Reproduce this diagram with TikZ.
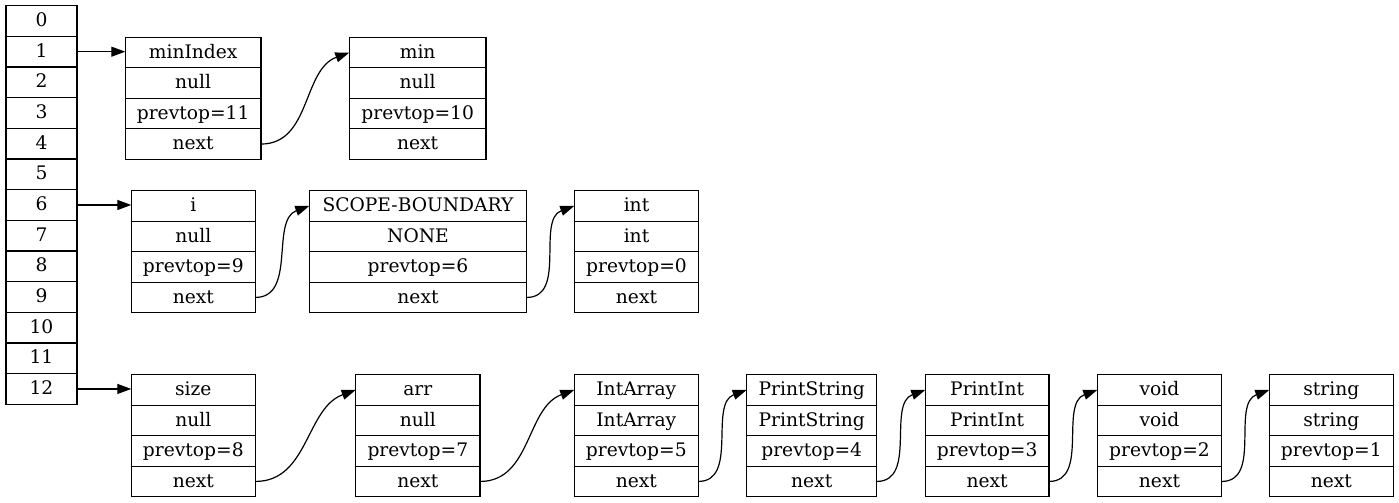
\documentclass[tikz,border=0pt]{standalone}
\usepackage{fontspec}
\setmainfont{DejaVu Serif}
\usetikzlibrary{arrows.meta}

% A record of four stacked cells: name, left x, right x, top y, four labels
\newcommand\recbox[8]{%
  \pgfmathsetmacro\rbw{(#3-#2)*0.75}%
  \pgfmathsetmacro\rbx{(#2+#3)/2}%
  \node[cell, minimum width=\rbw pt] (#11) at (\rbx, {-(#4+15.25)}) {#5};
  \node[cell, minimum width=\rbw pt] (#12) at (\rbx, {-(#4+45.75)}) {#6};
  \node[cell, minimum width=\rbw pt] (#13) at (\rbx, {-(#4+76.25)}) {#7};
  \node[cell, minimum width=\rbw pt] (#14) at (\rbx, {-(#4+106.75)}) {#8};
}

\begin{document}
\begin{tikzpicture}[x=0.75pt,y=0.75pt,
  cell/.style={draw=black, line width=0.9pt, inner sep=0pt, outer sep=0pt,
    minimum height=22.875pt, text height=11.4pt, text depth=3pt,
    font=\fontsize{14}{16}\selectfont},
  link/.style={line width=0.9pt, -{Triangle[length=10.5pt,width=7.5pt]}}]
\useasboundingbox (0,0) rectangle (1399,-503);

% symbol table slots
\foreach \k in {0,...,12}
  \node[cell, minimum width=53.25pt, minimum height=23pt]
    (a\k) at (41.5, {-(5.7+(\k+0.5)*30.66)}) {\k};

% chain from slot 1
\recbox{minIndex}{125.3}{261}{37.3}{minIndex}{null}{prevtop=11}{next}
\recbox{min}{349.3}{486}{37.3}{min}{null}{prevtop=10}{next}

% chain from slot 6
\recbox{i}{131.3}{255.3}{190.7}{i}{null}{prevtop=9}{next}
\recbox{scope}{309.3}{526.7}{190.7}{SCOPE-BOUNDARY}{NONE}{prevtop=6}{next}
\recbox{int}{574.3}{698.7}{190.7}{int}{int}{prevtop=0}{next}

% chain from slot 12
\recbox{size}{131.3}{255.3}{374.7}{size}{null}{prevtop=8}{next}
\recbox{arr}{355.7}{480}{374.7}{arr}{null}{prevtop=7}{next}
\recbox{intarray}{574.3}{698.3}{374.7}{IntArray}{IntArray}{prevtop=5}{next}
\recbox{printstring}{746.7}{876.7}{374.7}{PrintString}{PrintString}{prevtop=4}{next}
\recbox{printint}{925.3}{1049}{374.7}{PrintInt}{PrintInt}{prevtop=3}{next}
\recbox{void}{1097.3}{1221.7}{374.7}{void}{void}{prevtop=2}{next}
\recbox{string}{1269.3}{1393.3}{374.7}{string}{string}{prevtop=1}{next}

% slot pointers
\draw[link] (a1.east) -- (a1.east -| minIndex1.west);
\draw[link] (a6.east) -- (a6.east -| i1.west);
\draw[link] (a12.east) -- (a12.east -| size1.west);

% next pointers
\draw[link] (minIndex4.east) to[out=0,in=200] (min1.west);
\draw[link] (i4.east) to[out=0,in=200] (scope1.west);
\draw[link] (scope4.east) to[out=0,in=200] (int1.west);
\draw[link] (size4.east) to[out=0,in=200] (arr1.west);
\draw[link] (arr4.east) to[out=0,in=200] (intarray1.west);
\draw[link] (intarray4.east) to[out=0,in=200] (printstring1.west);
\draw[link] (printstring4.east) to[out=0,in=200] (printint1.west);
\draw[link] (printint4.east) to[out=0,in=200] (void1.west);
\draw[link] (void4.east) to[out=0,in=200] (string1.west);
\end{tikzpicture}
\end{document}
